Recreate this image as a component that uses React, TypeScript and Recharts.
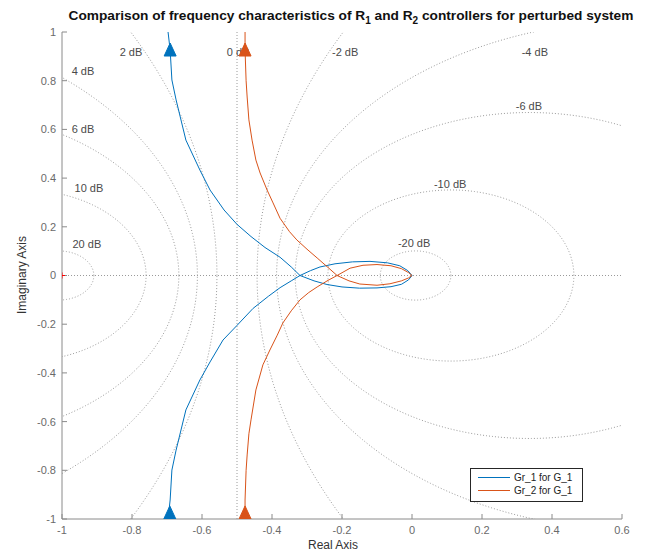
import React from 'react';
import { ComposedChart, Line, Scatter, XAxis, YAxis, ReferenceLine, Legend, Label } from 'recharts';

const W = 630;
const H = 546;
const FONT = '"Liberation Sans", Arial, Helvetica, sans-serif';

const xTicks = [-1, -0.8, -0.6, -0.4, -0.2, 0, 0.2, 0.4, 0.6];
const yTicks = [-1, -0.8, -0.6, -0.4, -0.2, 0, 0.2, 0.4, 0.6, 0.8, 1];

// M-circle levels (dB) of the Nyquist grid
const mCircleDb = [20, 10, 6, 4, 2, -2, -4, -6, -10, -20];

// grid labels (text and anchor in data units)
const gridLabelText = ['2 dB', '0 dB', '-2 dB', '-4 dB', '4 dB', '-6 dB', '6 dB', '10 dB', '-10 dB', '20 dB', '-20 dB'];
const gridLabelX = [-0.803, -0.497, -0.191, 0.351, -0.94, 0.334, -0.94, -0.923, 0.109, -0.929, 0.006];
const gridLabelY = [0.918, 0.918, 0.918, 0.918, 0.84, 0.696, 0.6, 0.36, 0.376, 0.13, 0.134];

const seriesNames = ['Gr_1 for G_1', 'Gr_2 for G_1'];
const seriesColors = ['#0072BD', '#D95319'];

// Gr_1 for G_1 : branch entering from top
const gr1Top = [
  [-0.7, 1.05], [-0.697, 1.0], [-0.691, 0.926], [-0.686, 0.803], [-0.674, 0.721], [-0.646, 0.556],
  [-0.606, 0.433], [-0.577, 0.351], [-0.537, 0.269], [-0.5, 0.21], [-0.46, 0.16], [-0.42, 0.115],
  [-0.377, 0.075], [-0.345, 0.035], [-0.32, 0.0], [-0.28, -0.022], [-0.243, -0.037], [-0.2, -0.047],
  [-0.15, -0.052], [-0.1, -0.051], [-0.06, -0.046], [-0.03, -0.036], [-0.01, -0.018], [0, 0],
];
// Gr_1 for G_1 : branch entering from bottom
const gr1Bottom = [
  [-0.7, -1.05], [-0.697, -1.0], [-0.691, -0.922], [-0.686, -0.799], [-0.674, -0.717], [-0.646, -0.552],
  [-0.606, -0.429], [-0.577, -0.355], [-0.54, -0.265], [-0.5, -0.205], [-0.454, -0.135], [-0.41, -0.085],
  [-0.377, -0.05], [-0.345, -0.022], [-0.32, 0.0], [-0.29, 0.02], [-0.263, 0.035], [-0.22, 0.048],
  [-0.17, 0.056], [-0.12, 0.058], [-0.07, 0.052], [-0.035, 0.04], [-0.012, 0.02], [0, 0],
];
// Gr_2 for G_1 : branch entering from top
const gr2Top = [
  [-0.477, 1.05], [-0.477, 1.0], [-0.477, 0.926], [-0.474, 0.8], [-0.471, 0.733], [-0.466, 0.639],
  [-0.457, 0.556], [-0.446, 0.474], [-0.434, 0.421], [-0.414, 0.351], [-0.397, 0.298], [-0.377, 0.235],
  [-0.35, 0.18], [-0.329, 0.146], [-0.3, 0.108], [-0.271, 0.072], [-0.24, 0.033], [-0.214, 0.0],
  [-0.18, -0.022], [-0.149, -0.035], [-0.1, -0.04], [-0.063, -0.034], [-0.03, -0.022], [-0.01, -0.01], [0, 0],
];
// Gr_2 for G_1 : branch entering from bottom
const gr2Bottom = [
  [-0.477, -1.05], [-0.477, -1.0], [-0.477, -0.922], [-0.474, -0.8], [-0.471, -0.737], [-0.466, -0.65],
  [-0.46, -0.593], [-0.446, -0.47], [-0.426, -0.367], [-0.406, -0.306], [-0.385, -0.245], [-0.369, -0.195],
  [-0.345, -0.145], [-0.32, -0.1], [-0.295, -0.07], [-0.271, -0.047], [-0.24, -0.02], [-0.214, 0.0],
  [-0.177, 0.03], [-0.14, 0.042], [-0.1, 0.045], [-0.06, 0.04], [-0.03, 0.028], [-0.01, 0.012], [0, 0],
];

// direction arrows on the curves
const gr1ArrowX = [-0.691, -0.692];
const gr1ArrowY = [0.926, -0.975];
const gr2ArrowX = [-0.477, -0.477];
const gr2ArrowY = [0.926, -0.975];

// critical point
const criticalX = [-1];
const criticalY = [0];

const toPts = (arr: number[][]) => arr.map(([x, y]) => ({ x, y }));
const zipPts = (xs: number[], ys: number[]) => xs.map((x, i) => ({ x, y: ys[i] }));

const mCircle = (db: number) => {
  const m = Math.pow(10, db / 20);
  const m2 = m * m;
  const c = -m2 / (m2 - 1);
  const r = Math.abs(m / (m2 - 1));
  const pts: { x: number; y: number }[] = [];
  const n = 720;
  for (let i = 0; i <= n; i++) {
    const t = (i / n) * 2 * Math.PI;
    pts.push({ x: c + r * Math.cos(t), y: r * Math.sin(t) });
  }
  return pts;
};

const gridLabels = gridLabelText.map((label, i) => ({ x: gridLabelX[i], y: gridLabelY[i], label }));

const Triangle = (props: any) => {
  const { cx, cy, fill } = props;
  if (cx == null || cy == null) return null;
  return <polygon points={`${cx},${cy - 7} ${cx - 6},${cy + 6} ${cx + 6},${cy + 6}`} fill={fill} stroke={fill} />;
};

const GridText = (props: any) => {
  const { cx, cy, payload } = props;
  return (
    <text x={cx} y={cy} dy="0.35em" textAnchor="middle" fontSize={11} fill="#4a4a4a" fontFamily={FONT}>
      {payload.label}
    </text>
  );
};

const Cross = (props: any) => {
  const { cx, cy } = props;
  return (
    <g stroke="#ff0000" strokeWidth={1}>
      <line x1={cx - 3} y1={cy} x2={cx + 3} y2={cy} />
      <line x1={cx} y1={cy - 3} x2={cx} y2={cy + 3} />
    </g>
  );
};

const LegendBox = () => (
  <div
    style={{
      width: 111,
      height: 30,
      border: '1px solid #262626',
      background: '#fff',
      fontFamily: FONT,
      fontSize: 10,
      color: '#222',
      padding: '2px 0 0 0',
      boxSizing: 'content-box',
    }}
  >
    {seriesNames.map((n, i) => (
      <div key={n} style={{ display: 'flex', alignItems: 'center', height: 13 }}>
        <div style={{ width: 32, height: 0, borderTop: `1px solid ${seriesColors[i]}`, marginLeft: 7, marginRight: 4 }} />
        <span>{n}</span>
      </div>
    ))}
  </div>
);

const axisStroke = '#8a8a8a';
const tickStyle = { fill: '#6a6a6a', fontSize: 11, fontFamily: FONT };

export default function App() {
  return (
    <div style={{ position: 'relative', width: W, height: H, fontFamily: FONT }}>
      <div
        style={{
          position: 'absolute',
          left: 28,
          top: 0,
          width: W,
          textAlign: 'center',
          fontWeight: 'bold',
          fontSize: 13.7,
          color: '#111',
          lineHeight: '15px',
          whiteSpace: 'nowrap',
          zIndex: 2,
        }}
      >
        Comparison of frequency characteristics of R<sub style={{ fontSize: 10, lineHeight: 0 }}>1</sub> and R
        <sub style={{ fontSize: 10, lineHeight: 0 }}>2</sub> controllers for perturbed system
      </div>
      <ComposedChart width={W} height={H} margin={{ top: 24, right: 16, bottom: 0, left: 4 }}>
        <XAxis
          type="number"
          dataKey="x"
          domain={[-1, 0.6]}
          ticks={xTicks}
          allowDataOverflow
          height={35}
          tickSize={-5}
          tickMargin={12}
          tick={tickStyle}
          tickLine={{ stroke: axisStroke }}
          axisLine={{ stroke: axisStroke }}
        >
          <Label
            content={() => (
              <text x={325} y={541} textAnchor="middle" fontSize={12} fill="#333" fontFamily={FONT}>
                Real Axis
              </text>
            )}
          />
        </XAxis>
        <XAxis
          xAxisId="top"
          orientation="top"
          type="number"
          dataKey="x"
          domain={[-1, 0.6]}
          ticks={xTicks}
          allowDataOverflow
          height={0}
          tickSize={-5}
          tick={false}
          tickLine={{ stroke: axisStroke }}
          axisLine={{ stroke: axisStroke }}
        />
        <YAxis
          type="number"
          dataKey="y"
          domain={[-1, 1]}
          ticks={yTicks}
          allowDataOverflow
          width={50}
          tickSize={-5}
          tickMargin={11}
          tick={tickStyle}
          tickLine={{ stroke: axisStroke }}
          axisLine={{ stroke: axisStroke }}
        >
          <Label
            content={() => (
              <text
                x={18}
                y={267}
                transform="rotate(-90 18 267)"
                textAnchor="middle"
                fontSize={12}
                fill="#333"
                fontFamily={FONT}
              >
                Imaginary Axis
              </text>
            )}
          />
        </YAxis>
        <YAxis
          yAxisId="right"
          orientation="right"
          type="number"
          dataKey="y"
          domain={[-1, 1]}
          ticks={yTicks}
          allowDataOverflow
          width={0}
          tickSize={-5}
          tick={false}
          tickLine={{ stroke: axisStroke }}
          axisLine={{ stroke: axisStroke }}
        />

        <ReferenceLine y={0} stroke="#9a9a9a" strokeDasharray="1 2" />
        <ReferenceLine x={-0.5} stroke="#9a9a9a" strokeDasharray="1 2" />

        {mCircleDb.map((db) => (
          <Line
            key={`m${db}`}
            data={mCircle(db)}
            dataKey="y"
            type="linear"
            stroke="#9a9a9a"
            strokeWidth={1}
            strokeDasharray="1 2"
            dot={false}
            activeDot={false}
            legendType="none"
            isAnimationActive={false}
          />
        ))}

        <Scatter data={gridLabels} shape={GridText} isAnimationActive={false} legendType="none" />

        <Line data={toPts(gr1Top)} dataKey="y" name={seriesNames[0]} type="linear" stroke={seriesColors[0]} strokeWidth={1} dot={false} activeDot={false} isAnimationActive={false} />
        <Line data={toPts(gr1Bottom)} dataKey="y" type="linear" stroke={seriesColors[0]} strokeWidth={1} dot={false} activeDot={false} legendType="none" isAnimationActive={false} />
        <Line data={toPts(gr2Top)} dataKey="y" name={seriesNames[1]} type="linear" stroke={seriesColors[1]} strokeWidth={1} dot={false} activeDot={false} isAnimationActive={false} />
        <Line data={toPts(gr2Bottom)} dataKey="y" type="linear" stroke={seriesColors[1]} strokeWidth={1} dot={false} activeDot={false} legendType="none" isAnimationActive={false} />

        <Scatter data={zipPts(gr1ArrowX, gr1ArrowY)} fill={seriesColors[0]} shape={Triangle} isAnimationActive={false} legendType="none" />
        <Scatter data={zipPts(gr2ArrowX, gr2ArrowY)} fill={seriesColors[1]} shape={Triangle} isAnimationActive={false} legendType="none" />
        <Scatter data={zipPts(criticalX, criticalY)} shape={Cross} isAnimationActive={false} legendType="none" />

        <Legend
          layout="vertical"
          align="center"
          verticalAlign="middle"
          wrapperStyle={{ left: 462, top: 460, width: 113, height: 32 }}
          content={() => <LegendBox />}
        />
      </ComposedChart>
    </div>
  );
}
